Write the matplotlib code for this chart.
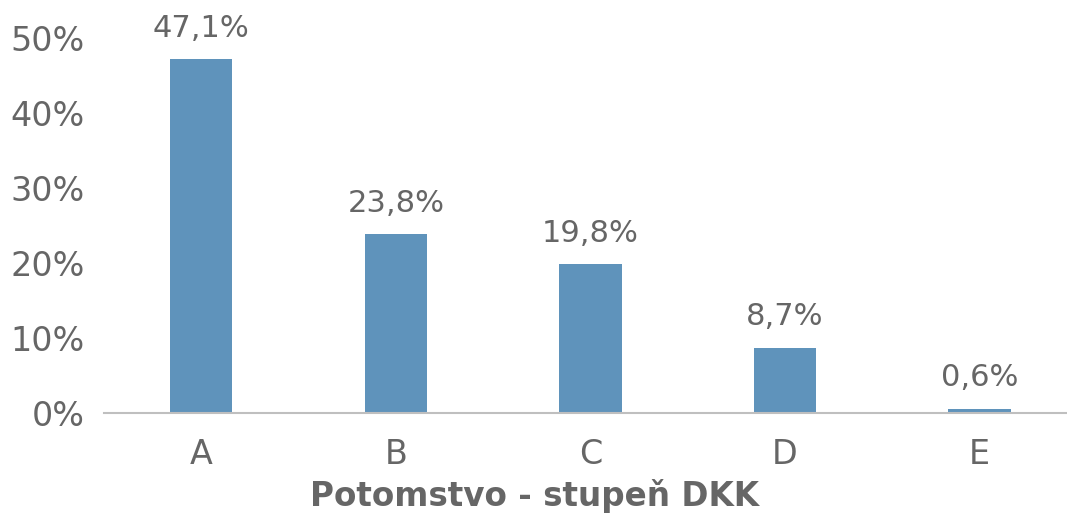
import matplotlib.pyplot as plt

categories = ['A', 'B', 'C', 'D', 'E']
values = [47.1, 23.8, 19.8, 8.7, 0.6]
labels = ['47,1%', '23,8%', '19,8%', '8,7%', '0,6%']
yticks = [0, 10, 20, 30, 40, 50]

plt.rcParams['font.family'] = ['DejaVu Sans']
text_color = '#666666'

fig = plt.figure(figsize=(10.67, 5.16), dpi=100)
ax = fig.add_axes([0.0975, 0.1996, 0.9025, 0.8004])

x = range(len(categories))
bars = ax.bar(x, values, width=0.32, color='#5f93bb', zorder=2)

# value labels above bars
for b, lab in zip(bars, labels):
    ax.annotate(lab, (b.get_x() + b.get_width() / 2, b.get_height()),
                xytext=(0, 12), textcoords='offset points',
                ha='center', va='bottom', fontsize=22, color=text_color)

ax.set_xlim(-0.5, 4.45)
ax.set_ylim(0, 55)
ax.set_yticks(yticks)
ax.set_yticklabels([f'{t}%' for t in yticks])
ax.set_xticks(list(x))
ax.set_xticklabels(categories)

for s in ['top', 'right', 'left']:
    ax.spines[s].set_visible(False)
ax.spines['bottom'].set_color('#bfbfbf')
ax.spines['bottom'].set_linewidth(1.5)

ax.tick_params(axis='both', length=0, labelsize=24, colors=text_color)
ax.tick_params(axis='y', pad=14)
ax.tick_params(axis='x', pad=18)

ax.set_xlabel('Potomstvo - stupeň DKK', fontsize=23.5, fontweight='bold',
              color=text_color, labelpad=6)
ax.xaxis.label.set_x(0.447)

fig.savefig('out.png', dpi=100)
